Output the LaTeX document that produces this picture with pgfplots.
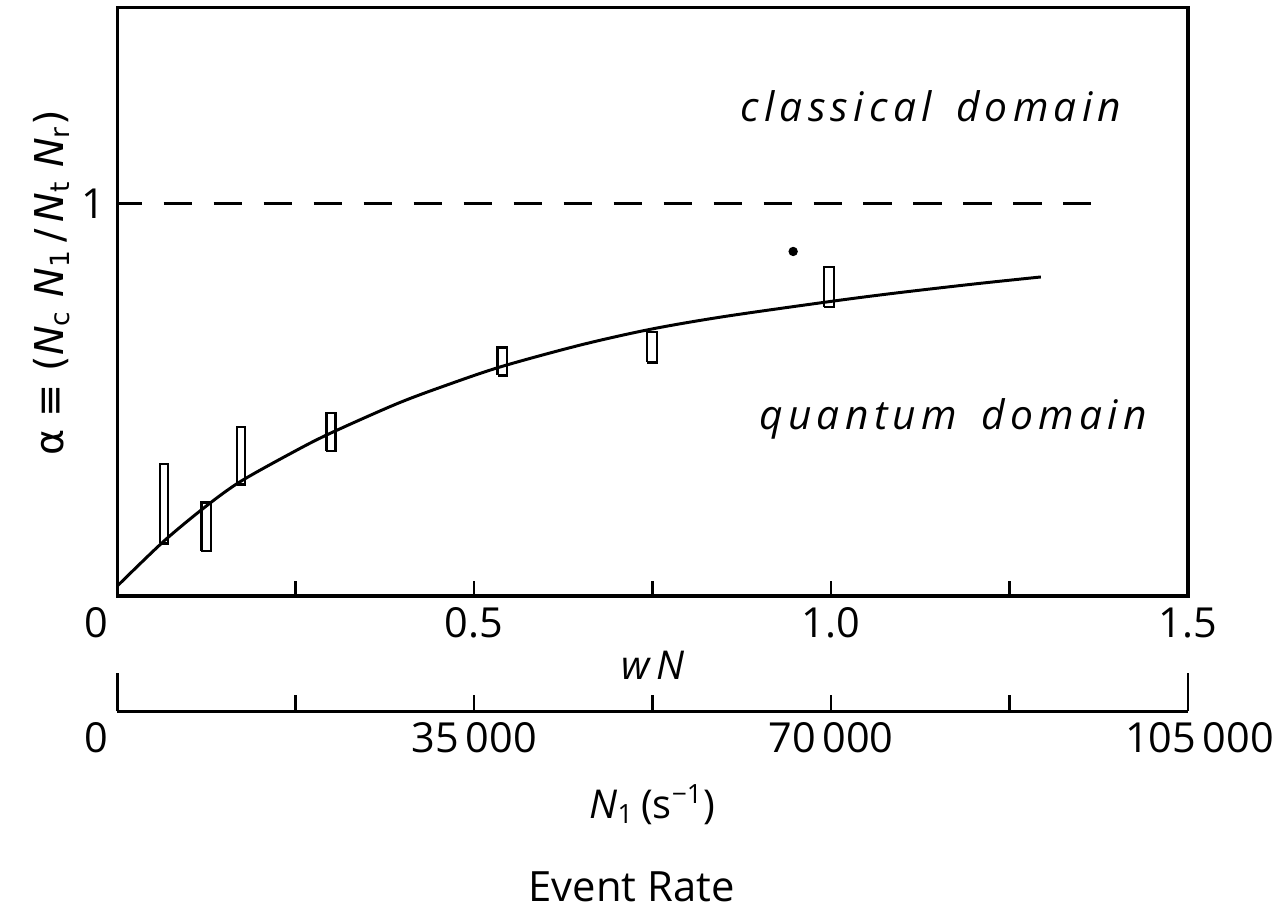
\documentclass[border=0pt]{standalone}
\usepackage{fontspec}
\setmainfont{Open Sans}
\newfontfamily\dejavu{DejaVu Sans}
\usepackage{pgfplots}
\pgfplotsset{compat=1.18}
\begin{document}
\begin{tikzpicture}
\begin{axis}[
  at={(0pt,0pt)}, anchor=south west,
  scale only axis, width=323.4pt, height=177.75pt,
  xmin=0, xmax=1.5, ymin=0, ymax=1.5,
  axis line style={line width=1pt},
  tick align=inside, xtick pos=bottom, ytick pos=left,
  xtick={0.5,1,1.5}, xticklabels={0.5,1.0,1.5},
  minor xtick={0.25,0.75,1.25},
  ytick=\empty, minor ytick={0.25,0.5,0.75,1.25},
  extra x ticks={0}, extra x tick labels={\makebox[19.8pt][l]{0}},
  extra y ticks={1}, extra y tick labels={1},
  major tick length=4.5pt, minor tick length=4.5pt,
  extra tick style={major tick length=7.5pt},
  tick style={line width=0.8pt, black},
  ticklabel style={font=\fontsize{12.5}{14}\selectfont},
  /pgf/number format/assume math mode=true,
  clip=false,
]
% fitted curve
\addplot[black, line width=0.9pt, smooth] coordinates {
 (0.000,0.025) (0.065,0.139) (0.124,0.228) (0.173,0.292) (0.250,0.370)
 (0.299,0.415) (0.392,0.490) (0.461,0.537) (0.539,0.585) (0.650,0.640)
 (0.748,0.680) (0.850,0.712) (0.997,0.750) (1.086,0.771) (1.200,0.795)
 (1.294,0.813)};
% classical limit
\addplot[black, line width=0.9pt, dash pattern=on 8.5pt off 6.6pt] coordinates {(0.065,1) (1.364,1)};
% error boxes
\addplot[black, line width=0.7pt] coordinates {(0.060,0.134) (0.071,0.134) (0.071,0.337) (0.060,0.337) (0.060,0.134)};
\addplot[black, line width=0.7pt] coordinates {(0.118,0.114) (0.131,0.114) (0.131,0.238) (0.118,0.238) (0.118,0.114)};
\addplot[black, line width=0.7pt] coordinates {(0.168,0.284) (0.179,0.284) (0.179,0.430) (0.168,0.430) (0.168,0.284)};
\addplot[black, line width=0.7pt] coordinates {(0.293,0.370) (0.306,0.370) (0.306,0.466) (0.293,0.466) (0.293,0.370)};
\addplot[black, line width=0.7pt] coordinates {(0.533,0.562) (0.546,0.562) (0.546,0.633) (0.533,0.633) (0.533,0.562)};
\addplot[black, line width=0.7pt] coordinates {(0.742,0.595) (0.756,0.595) (0.756,0.673) (0.742,0.673) (0.742,0.595)};
\addplot[black, line width=0.7pt] coordinates {(0.990,0.737) (1.004,0.737) (1.004,0.838) (0.990,0.838) (0.990,0.737)};
\addplot[only marks, mark=*, mark size=1.2pt, black] coordinates {(0.947,0.878)};
\node[anchor=base, font=\fontsize{12.3}{14}\selectfont\itshape\addfontfeature{LetterSpace=13}] at (axis cs:1.14,1.208) {classical\hspace{0.6em}domain};
\node[anchor=base, font=\fontsize{12.3}{14}\selectfont\itshape\addfontfeature{LetterSpace=13}] at (axis cs:1.171,0.425) {quantum\hspace{0.6em}domain};
\end{axis}
\begin{axis}[
  at={(0pt,-34.8pt)}, anchor=south west,
  scale only axis, width=323.4pt, height=10pt,
  xmin=0, xmax=105000, ymin=0, ymax=1,
  axis x line*=bottom, hide y axis,
  axis line style={line width=0.9pt},
  tick align=inside, scaled x ticks=false,
  xtick={35000,70000}, xticklabels={35\,000,70\,000},
  minor xtick={17500,52500,87500},
  extra x ticks={0,105000}, extra x tick labels={\makebox[19.8pt][l]{0},\makebox[52pt][r]{105\,000}},
  major tick length=5pt, minor tick length=5pt,
  extra tick style={major tick length=11.4pt},
  tick style={line width=0.8pt, black},
  ticklabel style={font=\fontsize{12.5}{14}\selectfont},
  /pgf/number format/assume math mode=true,
]
\end{axis}
\node[rotate=90, font=\dejavu\fontsize{12}{14}\selectfont] at (-19.8pt,94.5pt)
  {α ≡ (\textit{N}\textsubscript{c} \textit{N}\textsubscript{1}\,/\,\textit{N}\textsubscript{t} \textit{N}\textsubscript{r})};
\node[font=\fontsize{12}{14}\selectfont] at (162pt,-21pt) {\textit{w\,N}};
\node[font=\fontsize{12}{14}\selectfont] at (161.7pt,-63pt) {\textit{N}\textsubscript{1}\,(s\textsuperscript{−1})};
\node[font=\fontsize{12.6}{15}\selectfont] at (155.4pt,-87.9pt) {Event Rate};
\path (-35.4pt,-94.5pt) rectangle (350.1pt,180pt);
\end{tikzpicture}
\end{document}
